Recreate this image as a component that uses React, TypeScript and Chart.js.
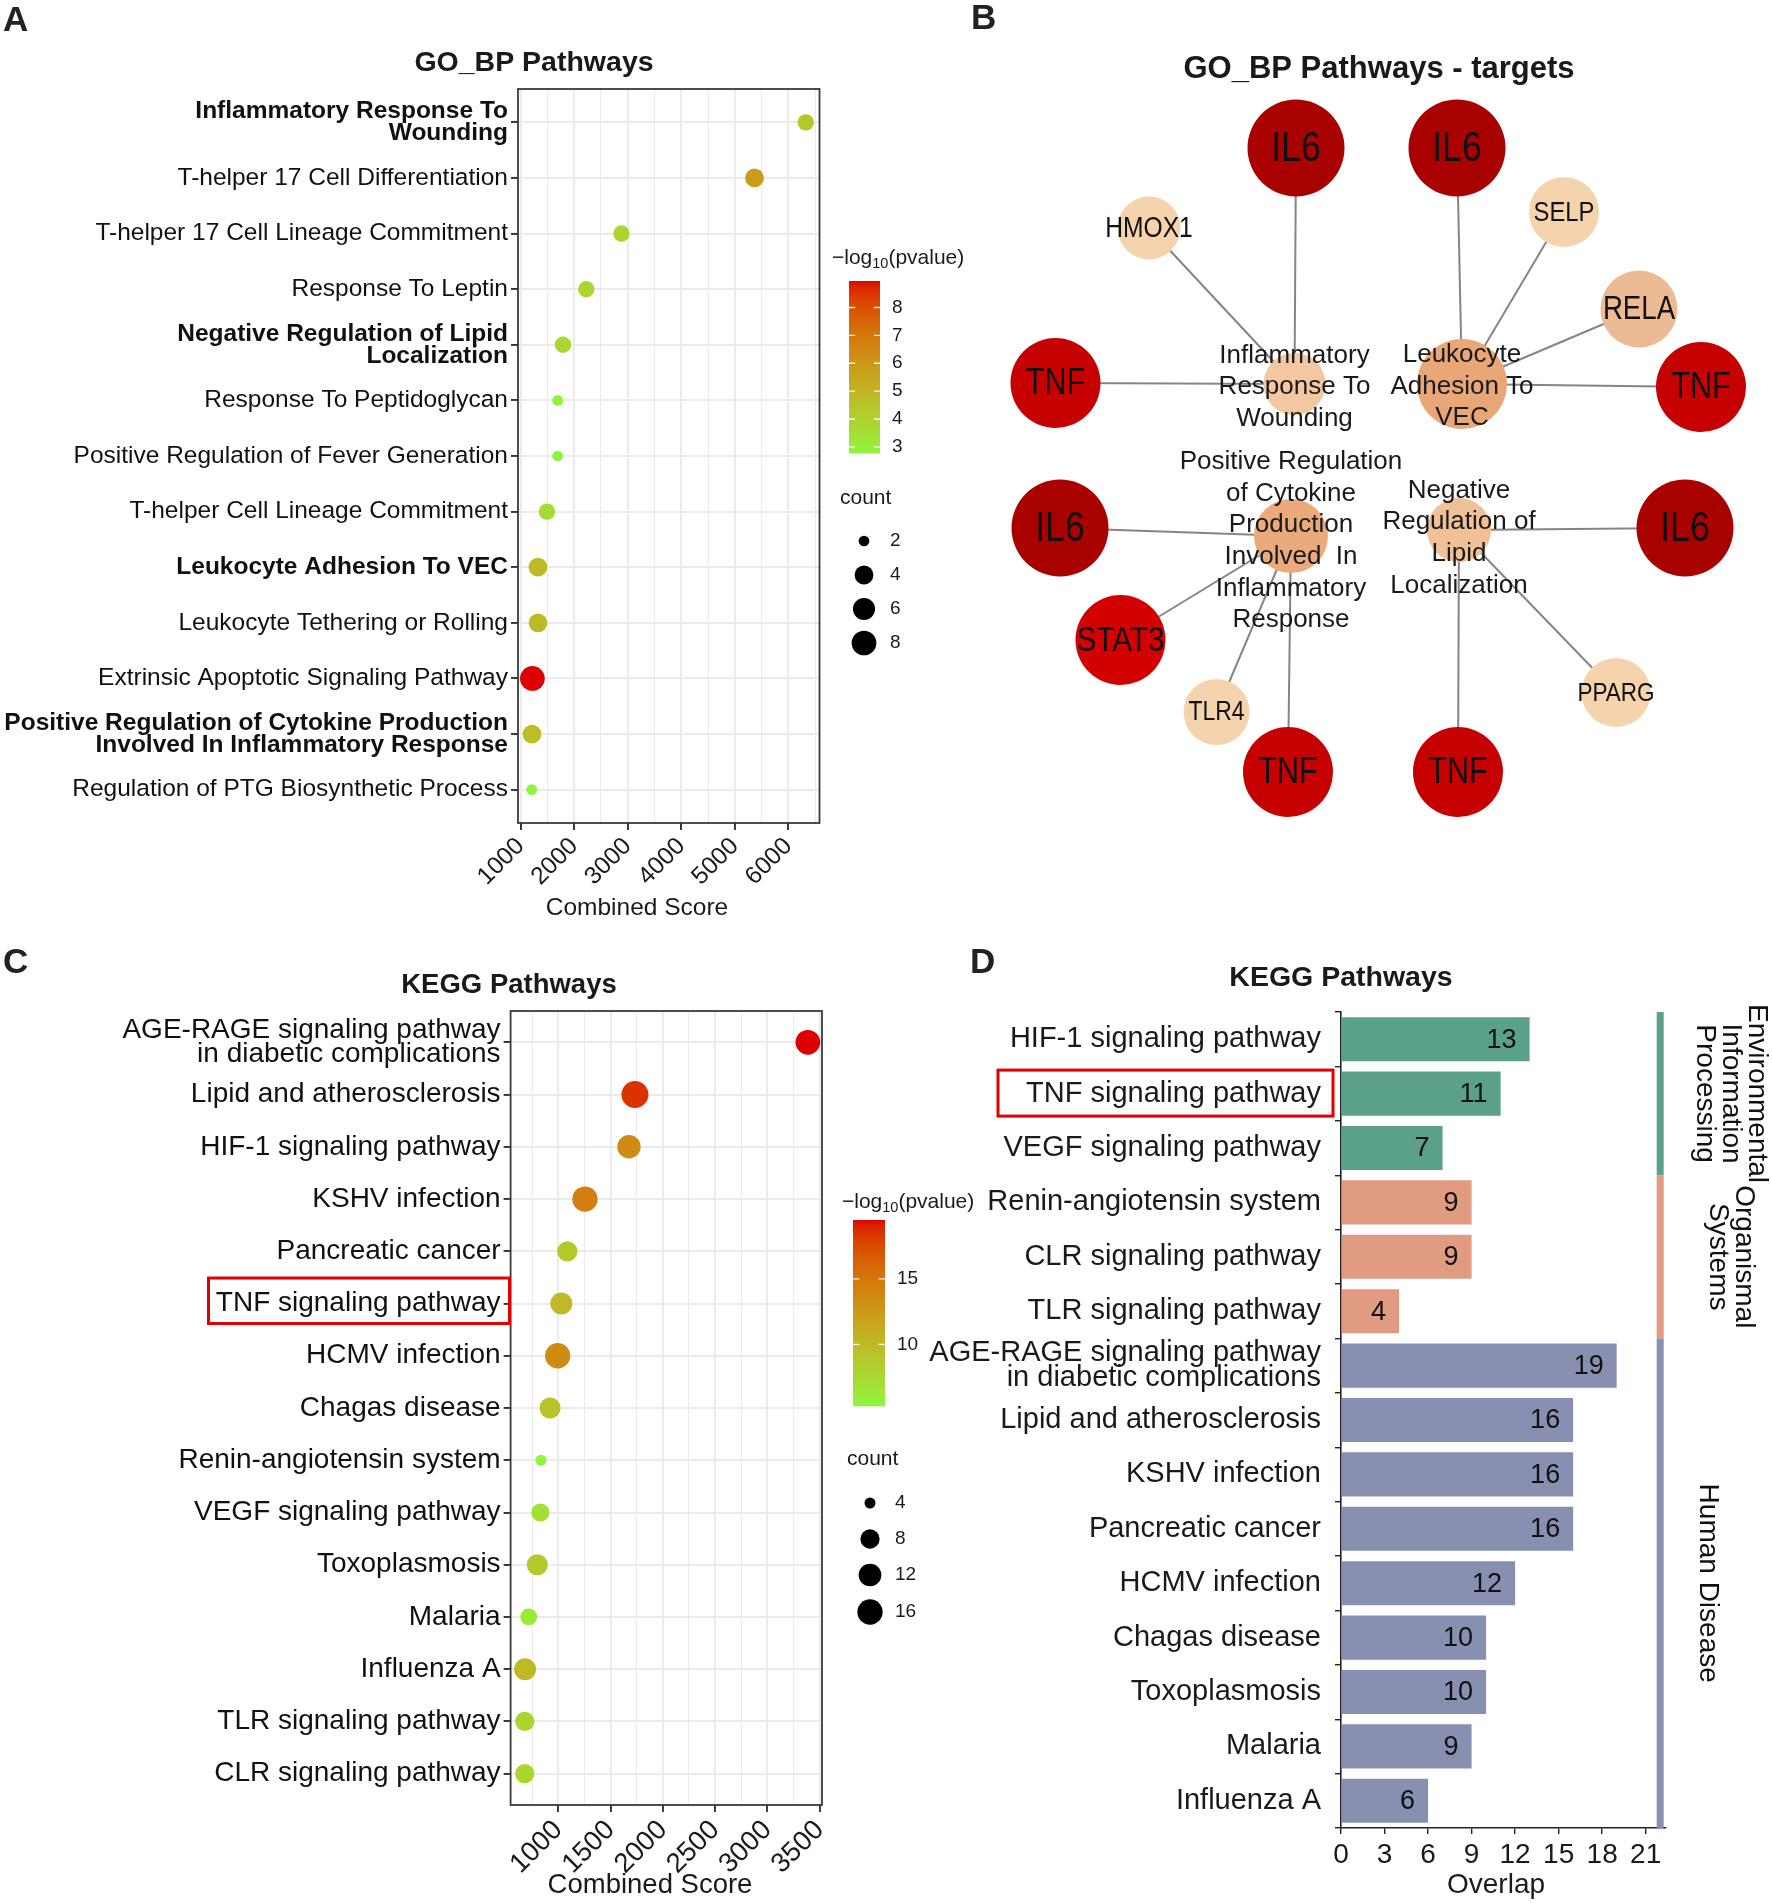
import React, { useEffect, useRef } from 'react';
import { Chart, registerables } from 'chart.js';

Chart.register(...registerables);

const FONT = "'Liberation Sans', Arial, Helvetica, sans-serif";

/* ---------------- Panel A: GO_BP dot plot ---------------- */
const goTerms = [
  'Inflammatory Response To\nWounding',
  'T-helper 17 Cell Differentiation',
  'T-helper 17 Cell Lineage Commitment',
  'Response To Leptin',
  'Negative Regulation of Lipid\nLocalization',
  'Response To Peptidoglycan',
  'Positive Regulation of Fever Generation',
  'T-helper Cell Lineage Commitment',
  'Leukocyte Adhesion To VEC',
  'Leukocyte Tethering or Rolling',
  'Extrinsic Apoptotic Signaling Pathway',
  'Positive Regulation of Cytokine Production\nInvolved In Inflammatory Response',
  'Regulation of PTG Biosynthetic Process',
];
const goHighlighted = [true, false, false, false, true, false, false, false, true, false, false, true, false];
const goCombinedScore = [6326, 5368, 2884, 2226, 1790, 1691, 1691, 1492, 1324, 1324, 1220, 1212, 1207];
const goLogP = [4.35, 5.8, 3.9, 3.9, 3.9, 2.8, 2.8, 3.6, 4.8, 4.8, 8.95, 4.7, 2.78];
const goCount = [3, 4, 3, 3, 3, 2, 2, 3, 4, 4, 8, 4, 2];
const goScoreTicks = [1000, 2000, 3000, 4000, 5000, 6000];
const goScoreMinorTicks = [1500, 2500, 3500, 4500, 5500, 6500];
const goLogPTicks = [3, 4, 5, 6, 7, 8];
const goCountTicks = [2, 4, 6, 8];

/* ---------------- Panel B: pathway - target network ---------------- */
const hubLabelLines = [
  ['Inflammatory', 'Response To', 'Wounding'],
  ['Leukocyte', 'Adhesion To', 'VEC'],
  ['Positive Regulation', 'of Cytokine', 'Production', 'Involved  In', 'Inflammatory', 'Response'],
  ['Negative', 'Regulation of', 'Lipid', 'Localization'],
];
const hubX = [1294.5, 1462, 1291, 1459];
const hubY = [384, 384, 536, 530];
const targetGene = ['IL6', 'HMOX1', 'TNF', 'IL6', 'SELP', 'RELA', 'TNF', 'IL6', 'STAT3', 'TLR4', 'TNF', 'IL6', 'PPARG', 'TNF'];
const targetHub = [0, 0, 0, 1, 1, 1, 1, 2, 2, 2, 2, 3, 3, 3];
const targetX = [1296, 1149, 1055.5, 1457, 1564, 1639, 1701, 1060, 1120.5, 1216.5, 1288, 1685, 1616, 1458];
const targetY = [148, 228, 383, 148, 212, 309, 387, 528, 640, 712, 772, 528, 692.5, 772];

/* ---------------- Panel C: KEGG dot plot ---------------- */
const keggTerms = [
  'AGE-RAGE signaling pathway\nin diabetic complications',
  'Lipid and atherosclerosis',
  'HIF-1 signaling pathway',
  'KSHV infection',
  'Pancreatic cancer',
  'TNF signaling pathway',
  'HCMV infection',
  'Chagas disease',
  'Renin-angiotensin system',
  'VEGF signaling pathway',
  'Toxoplasmosis',
  'Malaria',
  'Influenza A',
  'TLR signaling pathway',
  'CLR signaling pathway',
];
const keggCombinedScore = [3387, 1733, 1676, 1255, 1086, 1029, 994, 921, 834, 828, 799, 717, 682, 679, 679];
const keggLogP = [19.5, 18.5, 13.5, 14.5, 8.9, 10.1, 13.5, 9.35, 5.3, 7.0, 8.8, 6.15, 10.0, 7.85, 7.85];
const keggCount = [15, 19, 13, 16, 9, 11, 16, 10, 4, 7, 10, 6, 11, 8, 8];
const keggScoreTicks = [1000, 1500, 2000, 2500, 3000, 3500];
const keggScoreMinorTicks = [750, 1250, 1750, 2250, 2750, 3250];
const keggLogPTicks = [10, 15];
const keggCountTicks = [4, 8, 12, 16];

/* ---------------- Panel D: KEGG overlap bars ---------------- */
const overlapTerms = [
  'HIF-1 signaling pathway',
  'TNF signaling pathway',
  'VEGF signaling pathway',
  'Renin-angiotensin system',
  'CLR signaling pathway',
  'TLR signaling pathway',
  'AGE-RAGE signaling pathway\nin diabetic complications',
  'Lipid and atherosclerosis',
  'KSHV infection',
  'Pancreatic cancer',
  'HCMV infection',
  'Chagas disease',
  'Toxoplasmosis',
  'Malaria',
  'Influenza A',
];
const overlapCount = [13, 11, 7, 9, 9, 4, 19, 16, 16, 16, 12, 10, 10, 9, 6];
const overlapClass = [0, 0, 0, 1, 1, 1, 2, 2, 2, 2, 2, 2, 2, 2, 2];
const classNames = ['Environmental\nInformation\nProcessing', 'Organismal\nSystems', 'Human Disease'];
const overlapTicks = [0, 3, 6, 9, 12, 15, 18, 21];

/* ---------------- styles ---------------- */
const GRAD_LOW = '#8EF43E';
const GRAD_HIGH = '#DC0000';
const CLASS_COLORS = ['#5BA189', '#E09B80', '#8890B2'];
const GENE_COLOR: Record<string, string> = {
  IL6: '#A90000', TNF: '#C60000', STAT3: '#D20000', HMOX1: '#F5D3AC', SELP: '#F5D3AC',
  TLR4: '#F5D3AC', PPARG: '#F5D3AC', RELA: '#ECBA93',
};
const GENE_RADIUS: Record<string, number> = {
  IL6: 48.5, TNF: 45, STAT3: 45, HMOX1: 31.5, SELP: 35, RELA: 38.5, TLR4: 33, PPARG: 34.5,
};
const GENE_FONT: Record<string, number> = {
  IL6: 42, TNF: 36, STAT3: 35, HMOX1: 29, SELP: 28, RELA: 32.5, TLR4: 27, PPARG: 26.5,
};
const HUB_COLORS = ['#F3C7A0', '#E9A677', '#EAAA7B', '#F0C096'];
const HUB_RADIUS = [31, 45, 37, 32];
const HUB_LABEL_DY = [3, 2.5, 5, 8];

/* ---------------- helpers ---------------- */
function hexToRgb(h: string) {
  const n = parseInt(h.slice(1), 16);
  return [(n >> 16) & 255, (n >> 8) & 255, n & 255];
}
const lin = (c: number) => {
  c /= 255;
  return c <= 0.04045 ? c / 12.92 : Math.pow((c + 0.055) / 1.055, 2.4);
};
const unlin = (c: number) => {
  const v = c <= 0.0031308 ? 12.92 * c : 1.055 * Math.pow(Math.max(c, 0), 1 / 2.4) - 0.055;
  return Math.round(Math.max(0, Math.min(1, v)) * 255);
};
const XN = 0.95047, ZN = 1.08883;
function rgbToLab(rgb: number[]) {
  const [r, g, b] = rgb.map(lin);
  const x = (0.4124 * r + 0.3576 * g + 0.1805 * b) / XN;
  const y = 0.2126 * r + 0.7152 * g + 0.0722 * b;
  const z = (0.0193 * r + 0.1192 * g + 0.9505 * b) / ZN;
  const f = (t: number) => (t > 0.008856 ? Math.cbrt(t) : 7.787 * t + 16 / 116);
  const fx = f(x), fy = f(y), fz = f(z);
  return [116 * fy - 16, 500 * (fx - fy), 200 * (fy - fz)];
}
function labToRgb(lab: number[]) {
  const fy = (lab[0] + 16) / 116, fx = fy + lab[1] / 500, fz = fy - lab[2] / 200;
  const finv = (t: number) => (t * t * t > 0.008856 ? t * t * t : (t - 16 / 116) / 7.787);
  const x = finv(fx) * XN, y = finv(fy), z = finv(fz) * ZN;
  const r = 3.2406 * x - 1.5372 * y - 0.4986 * z;
  const g = -0.9689 * x + 1.8758 * y + 0.0415 * z;
  const b = 0.0557 * x - 0.204 * y + 1.057 * z;
  return `rgb(${unlin(r)},${unlin(g)},${unlin(b)})`;
}
function gradient(lo: number, hi: number) {
  const a = rgbToLab(hexToRgb(GRAD_LOW));
  const b = rgbToLab(hexToRgb(GRAD_HIGH));
  return (v: number) => {
    const t = Math.max(0, Math.min(1, (v - lo) / (hi - lo)));
    return labToRgb(a.map((av, i) => av + (b[i] - av) * t));
  };
}
function sizeScale(cMin: number, cMax: number, dMin: number, dMax: number) {
  return (c: number) => (dMin + (dMax - dMin) * Math.sqrt(Math.max(0, (c - cMin) / (cMax - cMin)))) / 2;
}
function txt(ctx: CanvasRenderingContext2D, s: string, x: number, y: number, size: number, o: any = {}) {
  ctx.save();
  ctx.font = `${o.bold ? 'bold ' : ''}${size}px ${FONT}`;
  ctx.textAlign = o.align || 'left';
  ctx.textBaseline = o.baseline || 'middle';
  ctx.fillStyle = o.color || '#1a1a1a';
  ctx.fillText(s, x, y);
  ctx.restore();
}
function logTitle(ctx: CanvasRenderingContext2D, x: number, y: number) {
  ctx.save();
  ctx.textBaseline = 'middle';
  ctx.textAlign = 'left';
  ctx.fillStyle = '#1a1a1a';
  ctx.font = `21px ${FONT}`;
  let cx = x;
  ctx.fillText('\u2212log', cx, y);
  cx += ctx.measureText('\u2212log').width;
  ctx.font = `14.5px ${FONT}`;
  ctx.fillText('10', cx, y + 6);
  cx += ctx.measureText('10').width;
  ctx.font = `21px ${FONT}`;
  ctx.fillText('(pvalue)', cx, y);
  ctx.restore();
}
function drawLegend(ctx: CanvasRenderingContext2D, L: any) {
  logTitle(ctx, L.titleX, L.titleY);
  for (let i = 0; i < L.barH; i++) {
    const v = L.hi - ((i + 0.5) / L.barH) * (L.hi - L.lo);
    ctx.fillStyle = L.color(v);
    ctx.fillRect(L.barX, L.barY + i, L.barW, 1.3);
  }
  ctx.save();
  ctx.strokeStyle = 'rgba(255,255,255,0.85)';
  ctx.lineWidth = 1.3;
  L.ticks.forEach((t: number) => {
    const y = L.barY + ((L.hi - t) / (L.hi - L.lo)) * L.barH;
    ctx.beginPath();
    ctx.moveTo(L.barX, y);
    ctx.lineTo(L.barX + L.barW / 5, y);
    ctx.moveTo(L.barX + (L.barW * 4) / 5, y);
    ctx.lineTo(L.barX + L.barW, y);
    ctx.stroke();
    txt(ctx, String(t), L.tickX, y, 19);
  });
  ctx.restore();
  txt(ctx, 'count', L.countTitleX, L.countTitleY, 21);
  L.counts.forEach((c: number, i: number) => {
    ctx.beginPath();
    ctx.arc(L.dotX, L.dotY[i], L.radius(c), 0, Math.PI * 2);
    ctx.fillStyle = '#000';
    ctx.fill();
    txt(ctx, String(c), L.countLabelX, L.dotY[i], 19);
  });
}

function makeDotChart(canvas: HTMLCanvasElement, cfg: any) {
  const { terms, bold, score, logp, count, majorTicks, minorTicks, area, W, H } = cfg;
  const n = terms.length;
  const sMin = Math.min(...score), sMax = Math.max(...score);
  const pad = (sMax - sMin) * 0.05;
  const lo = Math.min(...logp), hi = Math.max(...logp);
  const color = gradient(lo, hi);
  const radius = sizeScale(Math.min(...count), Math.max(...count), cfg.dMin, cfg.dMax);
  const isMajor = (v: number) => majorTicks.includes(v);
  const allTicks = [...majorTicks, ...minorTicks].sort((a: number, b: number) => a - b);
  return new Chart(canvas, {
    type: 'scatter',
    data: {
      datasets: [
        {
          data: score.map((s: number, i: number) => ({ x: s, y: i })),
          pointRadius: count.map((c: number) => radius(c)),
          pointBackgroundColor: logp.map((v: number) => color(v)),
          pointBorderWidth: 0,
          pointBorderColor: 'rgba(0,0,0,0)',
          clip: false,
        } as any,
      ],
    },
    options: {
      animation: false,
      responsive: false,
      devicePixelRatio: 1,
      events: [],
      layout: { autoPadding: false, padding: { top: area.top, right: W - area.right, left: 0, bottom: 0 } },
      plugins: { legend: { display: false }, tooltip: { enabled: false } },
      scales: {
        x: {
          type: 'linear',
          min: sMin - pad,
          max: sMax + pad,
          afterBuildTicks: (s: any) => {
            s.ticks = allTicks.map((v: number) => ({ value: v }));
          },
          afterFit: (s: any) => {
            s.height = H - area.bottom;
          },
          border: { display: false },
          grid: {
            color: '#EBEBEB',
            lineWidth: (c: any) => (c.tick && isMajor(c.tick.value) ? 1.9 : 1.0),
            tickColor: (c: any) => (c.tick && isMajor(c.tick.value) ? '#333333' : 'rgba(0,0,0,0)'),
            tickLength: 7,
          },
          ticks: {
            autoSkip: false,
            minRotation: 45,
            maxRotation: 45,
            padding: 2,
            color: '#1a1a1a',
            font: { family: FONT, size: cfg.tickSize },
            callback: (v: any) => (isMajor(Number(v)) ? String(v) : ''),
          },
        },
        y: {
          type: 'linear',
          reverse: true,
          min: -0.6,
          max: n - 0.4,
          afterBuildTicks: (s: any) => {
            s.ticks = terms.map((_: string, i: number) => ({ value: i }));
          },
          afterFit: (s: any) => {
            s.width = area.left;
          },
          border: { display: false },
          grid: { color: '#EBEBEB', lineWidth: 1.9, tickColor: '#333333', tickLength: 7 },
          ticks: {
            autoSkip: false,
            padding: 3,
            color: '#111111',
            font: (c: any) => ({
              family: FONT,
              size: cfg.labelSize,
              weight: bold && bold[c.index] ? 'bold' : 'normal',
              lineHeight: cfg.labelLH,
            }),
            callback: (v: any) => terms[Math.round(Number(v))].split('\n'),
          },
        },
      },
    } as any,
    plugins: [
      {
        id: 'panelBox',
        beforeDatasetsDraw(chart: any) {
          const a = chart.chartArea;
          const ctx = chart.ctx;
          ctx.save();
          ctx.strokeStyle = '#3a3a3a';
          ctx.lineWidth = 1.8;
          ctx.strokeRect(a.left, a.top, a.right - a.left, a.bottom - a.top);
          ctx.restore();
        },
      },
      {
        id: 'extras',
        afterDraw(chart: any) {
          cfg.extras(chart.ctx, chart, { color, radius, lo, hi });
        },
      },
    ],
  });
}

function makeNetwork(canvas: HTMLCanvasElement) {
  const OX = 960;
  const edgeSets = targetGene.map((_, i) => ({
    data: [
      { x: hubX[targetHub[i]], y: hubY[targetHub[i]] },
      { x: targetX[i], y: targetY[i] },
    ],
    showLine: true,
    pointRadius: 0,
    borderColor: '#858585',
    borderWidth: 2,
    order: 2,
    clip: false,
  }));
  const nodes = [
    ...hubX.map((x, i) => ({ x, y: hubY[i] })),
    ...targetX.map((x, i) => ({ x, y: targetY[i] })),
  ];
  const radii = [...HUB_RADIUS, ...targetGene.map((g) => GENE_RADIUS[g])];
  const colors = [...HUB_COLORS, ...targetGene.map((g) => GENE_COLOR[g])];
  return new Chart(canvas, {
    type: 'scatter',
    data: {
      datasets: [
        { data: nodes, pointRadius: radii, pointBackgroundColor: colors, pointBorderWidth: 0, order: 1, clip: false } as any,
        ...(edgeSets as any[]),
      ],
    },
    options: {
      animation: false,
      responsive: false,
      devicePixelRatio: 1,
      events: [],
      layout: { autoPadding: false, padding: 0 },
      plugins: { legend: { display: false }, tooltip: { enabled: false } },
      scales: {
        x: { type: 'linear', display: false, min: OX, max: OX + 812 },
        y: { type: 'linear', display: false, min: 0, max: 930, reverse: true },
      },
    } as any,
    plugins: [
      {
        id: 'netLabels',
        afterDatasetsDraw(chart: any) {
          const ctx = chart.ctx;
          const xs = chart.scales.x, ys = chart.scales.y;
          targetGene.forEach((g, i) => {
            ctx.save();
            ctx.translate(xs.getPixelForValue(targetX[i]), ys.getPixelForValue(targetY[i]) + 1);
            ctx.scale(0.85, 1);
            ctx.font = `${GENE_FONT[g]}px ${FONT}`;
            ctx.textAlign = 'center';
            ctx.textBaseline = 'middle';
            ctx.fillStyle = '#111111';
            ctx.fillText(g, 0, 0);
            ctx.restore();
          });
          hubLabelLines.forEach((lines, h) => {
            const cx = xs.getPixelForValue(hubX[h]);
            const cy = ys.getPixelForValue(hubY[h]) + HUB_LABEL_DY[h];
            const lh = 31.6;
            lines.forEach((ln, k) => {
              txt(ctx, ln, cx, cy + (k - (lines.length - 1) / 2) * lh, 26, { align: 'center', color: '#1a1a1a' });
            });
          });
          txt(ctx, 'B', 971 - OX, 29, 35, { bold: true, baseline: 'alphabetic', color: '#222' });
          txt(ctx, 'GO_BP Pathways - targets', 1379 - OX, 69, 31, { bold: true, align: 'center' });
        },
      },
    ],
  });
}

function makeBars(canvas: HTMLCanvasElement) {
  const OX = 900, OY = 930, W = 872, H = 973;
  const area = { left: 1341 - OX, right: 1666 - OX, top: 1012 - OY, bottom: 1828 - OY };
  return new Chart(canvas, {
    type: 'bar',
    data: {
      labels: overlapTerms.map((t) => t.split('\n')),
      datasets: [
        {
          data: overlapCount,
          backgroundColor: overlapClass.map((c) => CLASS_COLORS[c]),
          barPercentage: 0.81,
          categoryPercentage: 1,
          borderWidth: 0,
        },
      ],
    },
    options: {
      indexAxis: 'y',
      animation: false,
      responsive: false,
      devicePixelRatio: 1,
      events: [],
      layout: { autoPadding: false, padding: { top: area.top, right: W - area.right, left: 0, bottom: 0 } },
      plugins: { legend: { display: false }, tooltip: { enabled: false } },
      scales: {
        x: {
          type: 'linear',
          min: 0,
          max: 22.4,
          afterBuildTicks: (s: any) => {
            s.ticks = overlapTicks.map((v) => ({ value: v }));
          },
          afterFit: (s: any) => {
            s.height = H - area.bottom;
          },
          border: { display: true, color: '#222', width: 1.6 },
          grid: { drawOnChartArea: false, color: '#222', tickLength: 6, lineWidth: 1.4 },
          ticks: { autoSkip: false, maxRotation: 0, padding: 4, color: '#1a1a1a', font: { family: FONT, size: 28 } },
        },
        y: {
          type: 'category',
          afterFit: (s: any) => {
            s.width = area.left;
          },
          border: { display: true, color: '#222', width: 1.6 },
          grid: { drawOnChartArea: false, color: '#222', tickLength: 6, lineWidth: 1.4 },
          ticks: { autoSkip: false, padding: 14, color: '#1a1a1a', font: { family: FONT, size: 29, lineHeight: 0.87 } },
        },
      },
    } as any,
    plugins: [
      {
        id: 'barExtras',
        afterDatasetsDraw(chart: any) {
          const ctx = chart.ctx;
          const meta = chart.getDatasetMeta(0);
          meta.data.forEach((bar: any, i: number) => {
            txt(ctx, String(overlapCount[i]), bar.x - 13, bar.y + 1, 27, { align: 'right', color: '#111' });
          });
          const xs = chart.scales.x, ys = chart.scales.y;
          const pitch = ys.getPixelForValue(1) - ys.getPixelForValue(0);
          const sx = xs.getPixelForValue(22.0);
          const labelX = [1731 - OX, 1731 - OX, 1708 - OX];
          classNames.forEach((name, c) => {
            const idx = overlapClass.map((v, i) => (v === c ? i : -1)).filter((i) => i >= 0);
            const top = ys.getPixelForValue(idx[0]) - pitch / 2;
            const bot = ys.getPixelForValue(idx[idx.length - 1]) + pitch / 2;
            ctx.fillStyle = CLASS_COLORS[c];
            ctx.fillRect(sx - 3.5, top, 7, bot - top);
            const lines = name.split('\n');
            ctx.save();
            ctx.translate(labelX[c], (top + bot) / 2);
            ctx.rotate(Math.PI / 2);
            ctx.font = `28px ${FONT}`;
            ctx.textAlign = 'center';
            ctx.textBaseline = 'middle';
            ctx.fillStyle = '#111';
            lines.forEach((ln, k) => ctx.fillText(ln, 0, (k - (lines.length - 1) / 2) * 26));
            ctx.restore();
          });
          const ry = ys.getPixelForValue(1);
          ctx.save();
          ctx.strokeStyle = '#E00000';
          ctx.lineWidth = 3;
          ctx.strokeRect(998 - OX, ry - 23.5, 335, 46);
          ctx.restore();
          txt(ctx, 'D', 970 - OX, 973 - OY, 35, { bold: true, baseline: 'alphabetic', color: '#222' });
          txt(ctx, 'KEGG Pathways', 1341 - OX, 978 - OY, 28.5, { bold: true, align: 'center' });
          txt(ctx, 'Overlap', 1496 - OX, 1885 - OY, 28, { align: 'center' });
        },
      },
    ],
  });
}

export default function App() {
  const aRef = useRef<HTMLCanvasElement>(null);
  const bRef = useRef<HTMLCanvasElement>(null);
  const cRef = useRef<HTMLCanvasElement>(null);
  const dRef = useRef<HTMLCanvasElement>(null);

  useEffect(() => {
    document.body.style.margin = '0';
    const charts: Chart[] = [];
    charts.push(
      makeDotChart(aRef.current!, {
        terms: goTerms,
        bold: goHighlighted,
        score: goCombinedScore,
        logp: goLogP,
        count: goCount,
        majorTicks: goScoreTicks,
        minorTicks: goScoreMinorTicks,
        area: { left: 518, right: 819.5, top: 89, bottom: 823 },
        W: 1000,
        H: 930,
        dMin: 10.7,
        dMax: 24.7,
        labelSize: 24.5,
        labelLH: 0.9,
        tickSize: 24.5,
        extras: (ctx: CanvasRenderingContext2D, chart: any, s: any) => {
          txt(ctx, 'A', 3, 31, 35, { bold: true, baseline: 'alphabetic', color: '#222' });
          txt(ctx, 'GO_BP Pathways', 534, 63, 28.5, { bold: true, align: 'center' });
          txt(ctx, 'Combined Score', 637, 908, 24.5, { align: 'center' });
          drawLegend(ctx, {
            titleX: 832, titleY: 258, barX: 849, barY: 281, barW: 31, barH: 172,
            lo: s.lo, hi: s.hi, color: s.color, ticks: goLogPTicks, tickX: 892,
            countTitleX: 840, countTitleY: 498, dotX: 864, dotY: [541, 575, 609, 643],
            counts: goCountTicks, radius: s.radius, countLabelX: 890,
          });
        },
      })
    );
    charts.push(makeNetwork(bRef.current!));
    charts.push(
      makeDotChart(cRef.current!, {
        terms: keggTerms,
        bold: null,
        score: keggCombinedScore,
        logp: keggLogP,
        count: keggCount,
        majorTicks: keggScoreTicks,
        minorTicks: keggScoreMinorTicks,
        area: { left: 510.6, right: 822, top: 81, bottom: 875 },
        W: 1000,
        H: 973,
        dMin: 11,
        dMax: 27,
        labelSize: 28,
        labelLH: 0.85,
        tickSize: 27.5,
        extras: (ctx: CanvasRenderingContext2D, chart: any, s: any) => {
          txt(ctx, 'C', 3, 43, 35, { bold: true, baseline: 'alphabetic', color: '#222' });
          txt(ctx, 'KEGG Pathways', 509, 55, 27.5, { bold: true, align: 'center' });
          txt(ctx, 'Combined Score', 650, 955, 27.5, { align: 'center' });
          drawLegend(ctx, {
            titleX: 842, titleY: 272, barX: 853, barY: 290, barW: 32, barH: 186,
            lo: s.lo, hi: s.hi, color: s.color, ticks: keggLogPTicks, tickX: 897,
            countTitleX: 847, countTitleY: 529, dotX: 870, dotY: [573, 609, 645, 682],
            counts: keggCountTicks, radius: s.radius, countLabelX: 895,
          });
          const ry = chart.scales.y.getPixelForValue(5);
          ctx.save();
          ctx.strokeStyle = '#E00000';
          ctx.lineWidth = 3;
          ctx.strokeRect(208.5, ry - 25.5, 301, 45.5);
          ctx.restore();
        },
      })
    );
    charts.push(makeBars(dRef.current!));
    return () => charts.forEach((c) => c.destroy());
  }, []);

  const abs = (l: number, t: number, w: number, h: number): React.CSSProperties => ({
    position: 'absolute', left: l, top: t, width: w, height: h,
  });

  return (
    <div style={{ position: 'absolute', left: 0, top: 0, width: 1772, height: 1903, background: '#ffffff', overflow: 'hidden' }}>
      <canvas ref={aRef} width={1000} height={930} style={abs(0, 0, 1000, 930)} />
      <canvas ref={cRef} width={1000} height={973} style={abs(0, 930, 1000, 973)} />
      <canvas ref={bRef} width={812} height={930} style={abs(960, 0, 812, 930)} />
      <canvas ref={dRef} width={872} height={973} style={abs(900, 930, 872, 973)} />
    </div>
  );
}
